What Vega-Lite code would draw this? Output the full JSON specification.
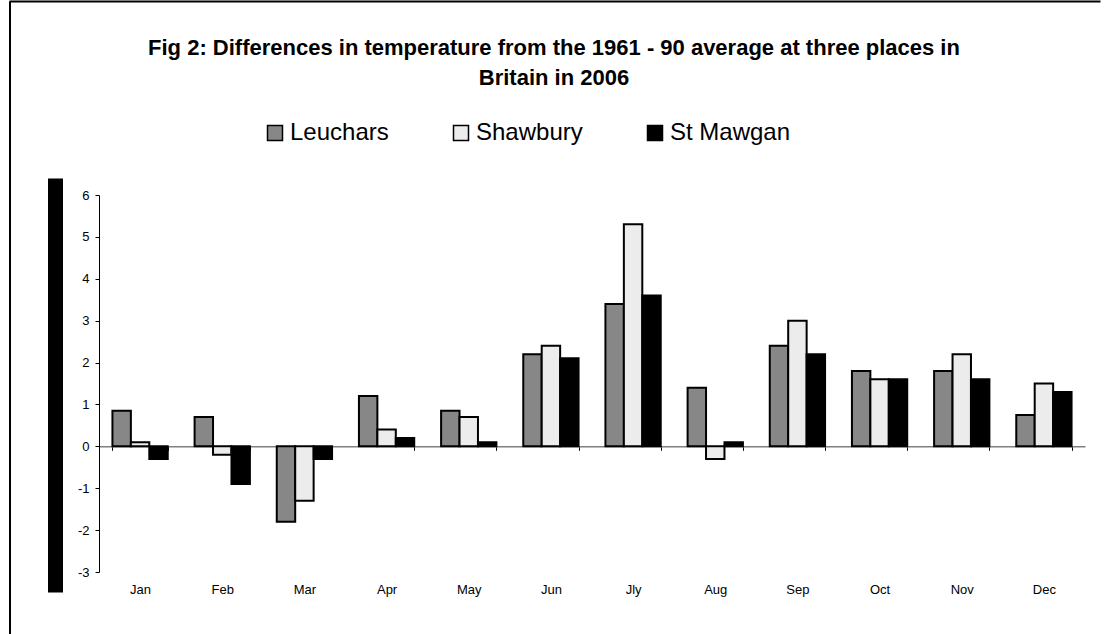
{
  "$schema": "https://vega.github.io/schema/vega-lite/v6.json",
  "width": 986,
  "height": 377,
  "autosize": {"type": "none"},
  "padding": {"left": 99, "top": 195, "right": 24, "bottom": 62},
  "background": "white",
  "config": {
    "view": {"stroke": null},
    "font": "Liberation Sans"
  },
  "title": {
    "text": ["Fig 2: Differences in temperature from the 1961 - 90 average at three places in", "Britain in 2006"],
    "fontSize": 22,
    "fontWeight": "bold",
    "font": "Liberation Sans",
    "color": "black",
    "lineHeight": 30,
    "anchor": "middle",
    "frame": "group",
    "dx": -38,
    "offset": -89
  },
  "data": {
    "values": [
      {"month": "Jan", "place": "Leuchars", "diff": 0.85},
      {"month": "Jan", "place": "Shawbury", "diff": 0.1},
      {"month": "Jan", "place": "St Mawgan", "diff": -0.3},
      {"month": "Feb", "place": "Leuchars", "diff": 0.7},
      {"month": "Feb", "place": "Shawbury", "diff": -0.2},
      {"month": "Feb", "place": "St Mawgan", "diff": -0.9},
      {"month": "Mar", "place": "Leuchars", "diff": -1.8},
      {"month": "Mar", "place": "Shawbury", "diff": -1.3},
      {"month": "Mar", "place": "St Mawgan", "diff": -0.3},
      {"month": "Apr", "place": "Leuchars", "diff": 1.2},
      {"month": "Apr", "place": "Shawbury", "diff": 0.4},
      {"month": "Apr", "place": "St Mawgan", "diff": 0.2},
      {"month": "May", "place": "Leuchars", "diff": 0.85},
      {"month": "May", "place": "Shawbury", "diff": 0.7},
      {"month": "May", "place": "St Mawgan", "diff": 0.1},
      {"month": "Jun", "place": "Leuchars", "diff": 2.2},
      {"month": "Jun", "place": "Shawbury", "diff": 2.4},
      {"month": "Jun", "place": "St Mawgan", "diff": 2.1},
      {"month": "Jly", "place": "Leuchars", "diff": 3.4},
      {"month": "Jly", "place": "Shawbury", "diff": 5.3},
      {"month": "Jly", "place": "St Mawgan", "diff": 3.6},
      {"month": "Aug", "place": "Leuchars", "diff": 1.4},
      {"month": "Aug", "place": "Shawbury", "diff": -0.3},
      {"month": "Aug", "place": "St Mawgan", "diff": 0.1},
      {"month": "Sep", "place": "Leuchars", "diff": 2.4},
      {"month": "Sep", "place": "Shawbury", "diff": 3.0},
      {"month": "Sep", "place": "St Mawgan", "diff": 2.2},
      {"month": "Oct", "place": "Leuchars", "diff": 1.8},
      {"month": "Oct", "place": "Shawbury", "diff": 1.6},
      {"month": "Oct", "place": "St Mawgan", "diff": 1.6},
      {"month": "Nov", "place": "Leuchars", "diff": 1.8},
      {"month": "Nov", "place": "Shawbury", "diff": 2.2},
      {"month": "Nov", "place": "St Mawgan", "diff": 1.6},
      {"month": "Dec", "place": "Leuchars", "diff": 0.75},
      {"month": "Dec", "place": "Shawbury", "diff": 1.5},
      {"month": "Dec", "place": "St Mawgan", "diff": 1.3}
    ]
  },
  "layer": [
    {
      "mark": {"type": "bar", "stroke": "black", "strokeWidth": 2},
      "encoding": {
        "x": {
          "field": "month",
          "type": "nominal",
          "sort": ["Jan", "Feb", "Mar", "Apr", "May", "Jun", "Jly", "Aug", "Sep", "Oct", "Nov", "Dec"],
          "scale": {"paddingInner": 0.327, "paddingOuter": 0.1635},
          "axis": {
            "title": null,
            "offset": -125.7,
            "domainColor": "#808080",
            "domainWidth": 1.5,
            "tickColor": "black",
            "tickSize": 4,
            "tickWidth": 1,
            "tickBand": "extent",
            "labelAngle": 0,
            "labelFontSize": 13,
            "labelFont": "Liberation Sans",
            "labelColor": "black",
            "labelPadding": 133
          }
        },
        "xOffset": {
          "field": "place",
          "type": "nominal",
          "sort": ["Leuchars", "Shawbury", "St Mawgan"],
          "scale": {"paddingInner": 0, "paddingOuter": 0}
        },
        "y": {
          "field": "diff",
          "type": "quantitative",
          "scale": {"domain": [-3, 6], "nice": false, "zero": false},
          "axis": {
            "title": null,
            "values": [-3, -2, -1, 0, 1, 2, 3, 4, 5, 6],
            "labelExpr": "replace(datum.label, '\u2212', '-')",
            "grid": false,
            "domainColor": "black",
            "domainWidth": 1,
            "tickColor": "black",
            "tickSize": 4,
            "labelFontSize": 13,
            "labelFont": "Liberation Sans",
            "labelColor": "black",
            "labelPadding": 6
          }
        },
        "fill": {
          "field": "place",
          "type": "nominal",
          "sort": ["Leuchars", "Shawbury", "St Mawgan"],
          "scale": {"domain": ["Leuchars", "Shawbury", "St Mawgan"], "range": ["#878787", "#ececec", "#000000"]},
          "legend": {
            "title": null,
            "orient": "none",
            "direction": "horizontal",
            "legendX": 164,
            "legendY": -74,
            "padding": 0,
            "symbolType": "square",
            "symbolSize": 225,
            "symbolStrokeColor": "black",
            "symbolStrokeWidth": 1.5,
            "symbolOpacity": 1,
            "labelFontSize": 24,
            "labelFont": "Liberation Sans",
            "labelColor": "black",
            "labelOffset": 3,
            "columnPadding": 60,
            "labelLimit": 300
          }
        }
      }
    },
    {
      "mark": {"type": "rule", "opacity": 0},
      "encoding": {
        "y": {
          "datum": 0,
          "type": "quantitative",
          "scale": {"domain": [0, 1], "range": [397, -17]},
          "axis": {
            "orient": "left",
            "title": null,
            "offset": 44,
            "labels": false,
            "ticks": false,
            "grid": false,
            "domainColor": "black",
            "domainWidth": 15
          }
        }
      }
    },
    {
      "mark": {"type": "rule", "opacity": 0},
      "encoding": {
        "x": {
          "datum": 0,
          "type": "quantitative",
          "scale": {"domain": [0, 1], "range": [-90, 1001]},
          "axis": {
            "orient": "top",
            "title": null,
            "offset": 194,
            "labels": false,
            "ticks": false,
            "grid": false,
            "domainColor": "black",
            "domainWidth": 2
          }
        }
      }
    },
    {
      "mark": {"type": "rule", "opacity": 0},
      "encoding": {
        "y": {
          "datum": 0,
          "type": "quantitative",
          "scale": {"domain": [0, 1], "range": [445, -194]},
          "axis": {
            "orient": "left",
            "title": null,
            "offset": 89.5,
            "labels": false,
            "ticks": false,
            "grid": false,
            "domainColor": "black",
            "domainWidth": 2
          }
        }
      }
    }
  ],
  "resolve": {"scale": {"x": "independent", "y": "independent"}, "axis": {"x": "independent", "y": "independent"}}
}
